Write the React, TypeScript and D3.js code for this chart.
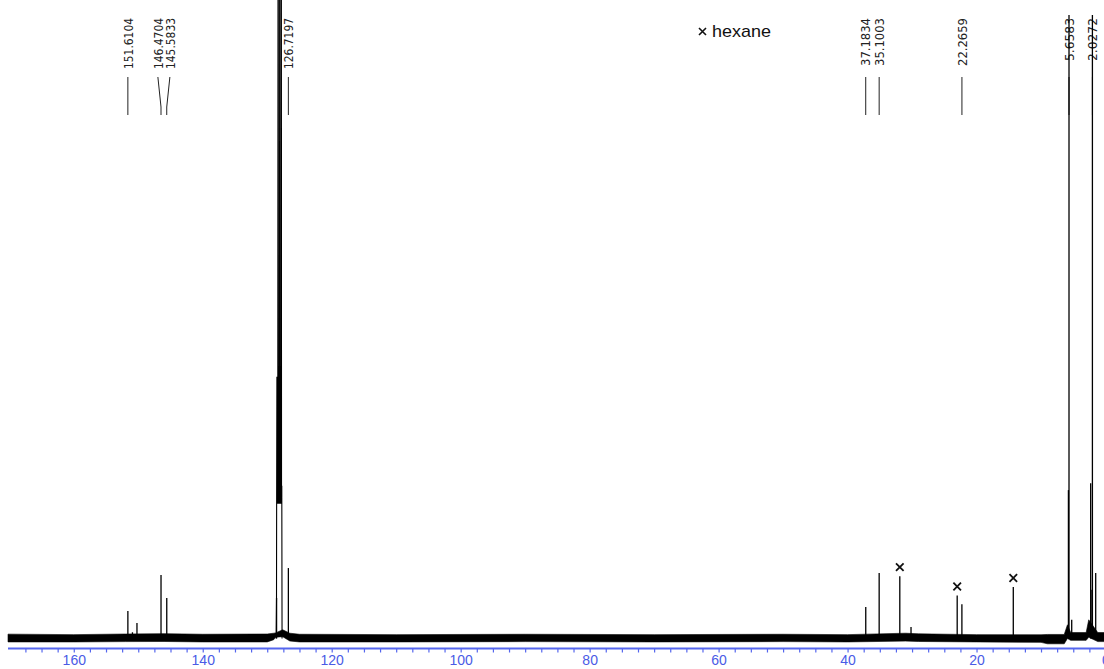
import React, { useEffect, useRef } from 'react';
import * as d3 from 'd3';

// isolated lines: shift (ppm) and height (100 = top of the 5.66 / 2.03 lines)
const peakPpm = [151.61, 150.9, 150.2, 146.47, 145.58, 128.55, 126.72, 37.18, 35.10, 31.9, 30.16, 23.0, 22.27, 14.3, 5.75, 5.66, 5.24, 2.30, 2.10, 2.03, 1.52];
const peakHeight = [4.4, 1.0, 2.5, 10.2, 6.5, 6.5, 11.3, 5.05, 10.5, 10.0, 1.84, 6.9, 5.5, 8.26, 23.8, 100, 3.0, 24.9, 7.8, 100, 10.5];

// C6D6 solvent triplet, traced as a line (runs off the top)
const solventPpm = [128.62, 128.56, 128.54, 128.5, 128.47, 128.44, 128.4, 128.36, 128.3, 128.26, 128.22, 128.18, 128.14, 128.1, 128.06, 128.02, 127.98, 127.94, 127.9, 127.86, 127.82, 127.78, 127.74, 127.7];
const solventHeight = [0, 6.5, 21.6, 42, 21.6, 39, 21.6, 39, 160, 21.6, 39, 21.6, 39, 21.6, 160, 21.6, 39, 21.6, 39, 21.6, 160, 21.6, 24.5, 0];

// picked peaks printed along the top
const labelPpm = [151.6104, 146.4704, 145.5833, 126.7197, 37.1834, 35.1003, 22.2659, 5.6583, 2.0272];

// hexane impurity lines (marked with a cross)
const hexanePpm = [31.9, 23.0, 14.3];

// rough upper / lower edge of the baseline noise
const noisePpm = [170.2, 160, 152, 146, 140, 130, 129, 128.7, 127.6, 126.5, 125, 110, 90, 70, 50, 40, 31, 29, 20, 10, 9, 6.4, 5.9, 5.4, 3, 2.6, 1.2, 0];
const noiseHigh = [0.7, 0.62, 0.72, 0.78, 0.68, 0.72, 0.85, 0.9, 1.4, 0.85, 0.68, 0.62, 0.68, 0.62, 0.68, 0.62, 0.85, 0.75, 0.62, 0.6, 0.65, 0.65, 2.2, 0.95, 0.95, 3.0, 0.95, 0.95];
const noiseLow = [-0.55, -0.55, -0.5, -0.48, -0.55, -0.55, -0.2, 0.2, 0.3, -0.4, -0.55, -0.55, -0.5, -0.55, -0.5, -0.55, -0.42, -0.48, -0.55, -0.62, -0.85, -0.85, 0, -0.3, -0.3, 0.2, -0.5, -0.5];

const axisLabels = [160, 140, 120, 100, 80, 60, 40, 20, 0];

const Spectrum = () => {
  const chartRef = useRef<SVGSVGElement>(null);

  useEffect(() => {
    const svg = d3.select(chartRef.current);
    svg.selectAll('*').remove();
    const width = 1104;

    const x = d3.scaleLinear().domain([170.2, 0]).range([8, 1105.5]);
    const y = d3.scaleLinear().domain([0, 100]).range([638.5, 15]);

    // baseline noise band
    const noise = noisePpm.map((p, i) => ({ p, hi: noiseHigh[i], lo: noiseLow[i] }));
    svg.append('path')
      .datum(noise)
      .attr('d', d3.area<any>().x((d) => x(d.p)).y0((d) => y(d.lo)).y1((d) => y(d.hi)))
      .attr('fill', '#000')
      .attr('stroke', '#000')
      .attr('stroke-width', 0.6);

    // solvent
    const solvent = solventPpm.map((p, i) => [p, solventHeight[i]]);
    svg.append('path')
      .datum(solvent)
      .attr('d', d3.line<any>().x((d) => x(d[0])).y((d) => y(d[1])))
      .attr('fill', 'none')
      .attr('stroke', '#000')
      .attr('stroke-width', 1.1);

    // peak labels + leaders
    const font = "'Liberation Sans Narrow', 'Arial Narrow', 'DejaVu Sans Condensed', 'Liberation Sans', sans-serif";
    const px = labelPpm.map((p) => x(p));
    const tx = px.slice();
    for (let i = 1; i < tx.length; i++) {
      if (Math.abs(tx[i] - tx[i - 1]) < 12) {
        const mid = (tx[i] + tx[i - 1]) / 2;
        tx[i - 1] = mid - 6;
        tx[i] = mid + 6;
      }
    }
    const lab = svg.append('g');
    labelPpm.forEach((p, i) => {
      const s = p.toFixed(4);
      lab.append('path')
        .attr('d', `M${tx[i]},77 L${px[i]},107 L${px[i]},115`)
        .attr('fill', 'none')
        .attr('stroke', '#222')
        .attr('stroke-width', 1);
      lab.append('text')
        .attr('transform', `translate(${tx[i]},18) rotate(-90)`)
        .attr('text-anchor', 'end')
        .attr('dy', '0.36em')
        .attr('font-family', font)
        .attr('font-size', 13)
        .attr('fill', '#222')
        .attr('textLength', s.length >= 8 ? 51 : s.length === 7 ? 48 : 43)
        .attr('lengthAdjust', 'spacingAndGlyphs')
        .text(s);
    });

    // sticks
    svg.append('g')
      .selectAll('line')
      .data(peakPpm.map((p, i) => [p, peakHeight[i]]))
      .enter()
      .append('line')
      .attr('x1', (d) => x(d[0]))
      .attr('x2', (d) => x(d[0]))
      .attr('y1', y(0))
      .attr('y2', (d) => y(d[1]))
      .attr('stroke', '#000')
      .attr('stroke-width', 1.3);

    // hexane crosses
    const cross = (cx: number, cy: number, r: number) =>
      `M${cx - r},${cy - r} L${cx + r},${cy + r} M${cx - r},${cy + r} L${cx + r},${cy - r}`;
    hexanePpm.forEach((p) => {
      const i = peakPpm.indexOf(p);
      svg.append('path')
        .attr('d', cross(x(p), y(peakHeight[i]) - 9, 3.8))
        .attr('stroke', '#111')
        .attr('stroke-width', 1.8)
        .attr('fill', 'none');
    });

    // legend
    svg.append('path')
      .attr('d', cross(702.5, 31.5, 3.5))
      .attr('stroke', '#111')
      .attr('stroke-width', 1.6);
    svg.append('text')
      .attr('x', 712)
      .attr('y', 36.5)
      .attr('font-family', "'Liberation Sans', Arial, sans-serif")
      .attr('font-size', 17)
      .attr('textLength', 59)
      .attr('lengthAdjust', 'spacingAndGlyphs')
      .attr('fill', '#111')
      .text('hexane');

    // ppm axis
    const blue = '#5566ee';
    const axis = d3.axisBottom(x)
      .tickValues(d3.range(0, 170, 2.5))
      .tickFormat((d: any) => (axisLabels.includes(d) ? String(d) : ''))
      .tickSize(4)
      .tickSizeOuter(0);
    const ax = svg.append('g').attr('transform', 'translate(0,648.5)').call(axis as any);
    ax.select('.domain').attr('stroke', blue).attr('stroke-width', 2).attr('d', `M8,0H${width}`);
    ax.selectAll('.tick line').attr('stroke', blue).attr('stroke-width', 1.2);
    ax.selectAll('.tick text')
      .attr('fill', '#4a5be6')
      .attr('font-size', 14)
      .attr('font-family', "'Liberation Sans', Arial, sans-serif");
  }, []);

  return (
    <svg
      ref={chartRef}
      width={1104}
      height={669}
      style={{ position: 'absolute', left: 0, top: 0, background: '#fff' }}
    ></svg>
  );
};

export default Spectrum;
